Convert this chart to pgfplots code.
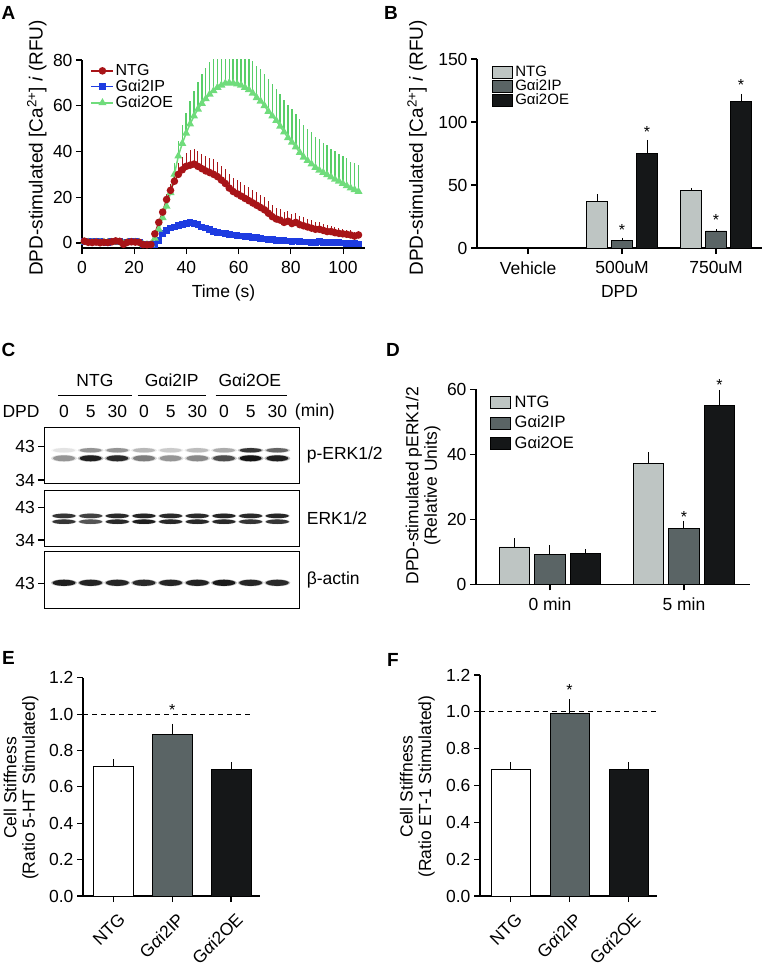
\documentclass[border=0pt]{standalone}
\usepackage{fontspec}
\setmainfont{Liberation Sans}
\usepackage{pgfplots}
\usepackage{pgfplotstable}
\pgfplotsset{compat=1.18}

\definecolor{cntg}{RGB}{168,20,24}
\definecolor{cip}{RGB}{30,60,225}
\definecolor{coe}{RGB}{112,220,124}
\definecolor{coeerr}{RGB}{88,206,104}
\definecolor{bntg}{RGB}{190,197,195}
\definecolor{bip}{RGB}{90,100,101}
\definecolor{boe}{RGB}{21,23,24}

\newcommand\tfs{\fontsize{17.5}{18.5}\selectfont}
\newcommand\yfs{\fontsize{19}{20}\selectfont}
\newcommand\letfs{\bfseries\fontsize{19}{19}\selectfont}

\pgfdeclareplotmark{bandthin}{\pgfpathellipse{\pgfpointorigin}{\pgfpoint{\pgfplotmarksize}{0pt}}{\pgfpoint{0pt}{0.2\pgfplotmarksize}}\pgfusepathqfill}
\pgfdeclareplotmark{bandthick}{\pgfpathellipse{\pgfpointorigin}{\pgfpoint{\pgfplotmarksize}{0pt}}{\pgfpoint{0pt}{0.27\pgfplotmarksize}}\pgfusepathqfill}

\pgfplotsset{
  gp/.style={
    scale only axis,
    axis lines=left,
    axis line style={-, line width=1.1pt},
    tick style={line width=1.1pt, black},
    tick align=outside,
    major tick length=6pt,
    tick label style={font=\tfs},
    x tick label style={yshift=-4pt},
    label style={font=\tfs},
    /pgf/number format/assume math mode=true,
  },
  barerr/.style={error bars/.cd, y dir=plus, y explicit, error mark=none, error bar style={line width=1pt, draw=black}},
  barleg/.style={legend image code/.code={\draw[#1, line width=0.8pt] (0pt,-6pt) rectangle (20pt,6pt);}},
  blot/.style={
    scale only axis, width=255pt, xmin=0.261, xmax=9.825, ymin=0,
    xtick=\empty, ytick pos=left, tick align=outside, major tick length=6pt,
    axis line style={line width=1.1pt}, tick style={line width=1.1pt, black},
    tick label style={font=\tfs}, clip=false,
    colormap={blotmap}{color(0)=(white) color(1)=(black!92)},
    point meta min=0, point meta max=1,
  },
  bandplot/.style={scatter, only marks, point meta=explicit, scatter/use mapped color={draw=none, fill=mapped color}},
}

% Panel A data: time (s), mean and upper error for each genotype
\pgfplotstableread{
t ntg ntge ip ipe oe oee
0.9 0.8 0.3 0.6 0.2 0.5 0.3
2.4 0.3 0.3 0.4 0.2 0.3 0.3
3.9 0.2 0.3 0.5 0.2 0.2 0.3
5.4 0.4 0.3 0.8 0.2 0.3 0.3
6.9 0.1 0.3 0.6 0.2 0.2 0.3
8.4 0.3 0.3 0.4 0.2 0.3 0.3
9.9 0.2 0.3 0.3 0.2 0.2 0.3
11.4 0.5 0.3 0.5 0.2 0.3 0.3
12.9 0.9 0.3 0.7 0.2 0.5 0.3
14.4 0.7 0.3 0.6 0.2 0.4 0.3
15.9 -0.6 0.3 0.2 0.2 -0.3 0.3
17.4 0.3 0.3 0.4 0.2 0.2 0.3
18.9 0.5 0.3 0.6 0.2 0.3 0.3
20.4 0.4 0.3 0.5 0.2 0.3 0.3
21.9 0.3 0.3 0.4 0.2 0.2 0.3
23.4 -0.7 0.2 -0.6 0.2 -0.7 0.2
24.9 -0.8 0.2 -0.7 0.2 -0.8 0.2
26.4 -0.7 0.2 -0.8 0.2 -0.7 0.2
27.9 4.0 0.6 -0.8 0.3 2.0 0.5
29.4 9.0 1.0 1.0 0.5 6.0 1.0
30.9 13.5 1.5 4.0 0.8 11.0 1.5
32.4 19.0 2.2 5.5 1.0 16.0 2.5
33.9 23.0 3.0 6.5 1.0 22.0 3.5
35.4 27.0 4.0 7.0 1.2 30.0 5.0
36.9 30.0 4.8 7.5 1.2 38.0 6.5
38.4 32.0 5.5 8.0 1.2 43.5 8.0
39.9 33.5 6.0 8.5 1.2 48.0 9.0
41.4 34.0 6.5 9.0 1.2 52.0 10.0
42.9 34.5 6.5 8.5 1.2 55.5 11.0
44.4 33.5 6.5 8.0 1.2 58.5 12.0
45.9 32.5 6.5 7.0 1.1 61.0 13.0
47.4 31.5 6.5 6.5 1.0 63.0 13.5
48.9 30.8 6.5 5.8 1.0 65.0 14.0
50.4 30.0 6.5 5.0 1.0 66.5 14.0
51.9 29.0 6.5 4.7 0.9 68.0 14.0
53.4 27.5 6.3 4.3 0.9 69.0 14.0
54.9 26.0 6.2 4.0 0.9 69.8 14.0
56.4 24.0 6.0 3.8 0.8 70.0 14.0
57.9 22.5 6.0 3.5 0.8 69.8 14.0
59.4 21.5 6.0 3.2 0.8 69.5 14.0
60.9 20.5 6.0 3.0 0.8 69.0 14.0
62.4 19.5 5.8 2.8 0.7 68.0 14.0
63.9 18.5 5.8 2.7 0.7 67.0 14.0
65.4 17.5 5.7 2.5 0.7 65.5 14.0
66.9 16.5 5.6 2.3 0.7 63.5 14.0
68.4 15.5 5.5 2.0 0.7 62.0 14.0
69.9 14.5 5.5 1.8 0.6 60.0 14.0
71.4 13.0 5.3 1.6 0.6 57.5 14.0
72.9 11.5 5.0 1.5 0.6 55.5 14.0
74.4 10.5 5.0 1.2 0.6 53.5 14.0
75.9 10.0 4.8 1.0 0.6 51.0 14.0
77.4 9.0 4.6 1.1 0.6 48.5 14.0
78.9 9.5 4.5 0.8 0.5 46.0 14.5
80.4 8.5 4.3 0.6 0.5 44.0 14.5
81.9 9.0 4.2 0.8 0.5 42.0 14.5
83.4 8.0 4.0 0.6 0.5 39.5 14.5
84.9 7.5 3.8 0.4 0.5 37.5 14.0
86.4 7.0 3.6 0.4 0.5 36.0 14.0
87.9 6.5 3.5 0.3 0.5 34.5 14.0
89.4 6.0 3.3 0.3 0.5 33.0 13.5
90.9 6.0 3.1 0.5 0.5 31.8 13.5
92.4 5.5 3.0 0.3 0.5 30.8 13.0
93.9 5.0 2.8 0.2 0.5 29.8 13.0
95.4 5.0 2.6 0.2 0.5 28.8 12.5
96.9 4.5 2.5 0.2 0.5 27.8 12.5
98.4 4.2 2.3 0.1 0.5 27.0 12.0
99.9 4.0 2.2 0.0 0.5 26.0 12.0
101.4 3.8 2.0 -0.1 0.5 25.0 12.0
102.9 3.5 2.0 -0.2 0.5 24.0 11.5
104.4 3.0 1.8 -0.3 0.5 23.3 11.5
105.9 3.5 1.8 -0.5 0.5 22.5 11.5
}\dataA

% Panel B
\pgfplotstableread{
x y e
0.734 36.6 5.9
1.734 45.4 2.4
}\Bntg
\pgfplotstableread{
x y e
1 6.1 2.2
2 13.5 1.4
}\Bip
\pgfplotstableread{
x y e
1.266 75.2 10.6
2.266 116 6.4
}\Boe

% Panel D
\pgfplotstableread{
x y e
-0.266 11.5 2.7
0.734 37.2 3.5
}\Dntg
\pgfplotstableread{
x y e
0 9.3 2.8
1 17.2 2.4
}\Dip
\pgfplotstableread{
x y e
0.266 9.5 1.3
1.266 54.9 4.9
}\Doe

% Panel C blot band intensities (lane, position, darkness)
\pgfplotstableread{
l y v
1 33.0 0.12
2 33.0 0.45
3 33.0 0.45
4 33.0 0.30
5 33.0 0.22
6 33.0 0.28
7 33.0 0.35
8 33.0 0.85
9 33.0 0.65
}\pUp
\pgfplotstableread{
l y v
1 25.0 0.45
2 25.0 0.95
3 25.0 0.90
4 25.0 0.55
5 25.0 0.45
6 25.0 0.50
7 25.0 0.75
8 25.0 1.00
9 25.0 0.95
}\pLo
\pgfplotstableread{
l y v
1 30.8 0.85
2 30.8 0.80
3 30.8 0.90
4 30.8 0.92
5 30.8 0.90
6 30.8 0.90
7 30.8 0.92
8 30.8 0.90
9 30.8 0.92
}\eUp
\pgfplotstableread{
l y v
1 25.0 0.85
2 25.0 0.72
3 25.0 0.90
4 25.0 0.95
5 25.0 0.90
6 25.0 0.90
7 25.0 0.90
8 25.0 0.85
9 25.0 0.85
}\eLo
\pgfplotstableread{
l y v
1 25.5 0.95
2 25.5 0.93
3 25.5 0.92
4 25.5 0.90
5 25.5 0.92
6 25.5 0.93
7 25.5 0.97
8 25.5 0.92
9 25.5 0.90
}\act

\begin{document}
\begin{tikzpicture}
\useasboundingbox (0,0) rectangle (765pt,-968pt);

% panel letters
\node[font=\letfs] at (8.5pt,-13pt) {A};
\node[font=\letfs] at (391pt,-13pt) {B};
\node[font=\letfs] at (8.5pt,-350pt) {C};
\node[font=\letfs] at (393pt,-350pt) {D};
\node[font=\letfs] at (8.5pt,-658pt) {E};
\node[font=\letfs] at (393pt,-660pt) {F};

% ---------------- A ----------------
\begin{axis}[gp, at={(82pt,-60pt)}, anchor=north west, width=283pt, height=188pt,
  xmin=0, xmax=108.4, ymin=-2.2, ymax=80,
  xtick={0,20,...,100}, ytick={0,20,...,80},
  xlabel={Time (s)}, ylabel={DPD-stimulated [Ca\textsuperscript{2+}] \textit{i} (RFU)},
  xlabel style={at={(axis description cs:0.5,-0.24)}, anchor=center},
  ylabel style={at={(axis description cs:-0.16,0.532)}, anchor=center, font=\yfs},
  legend style={at={(rel axis cs:0.03,0.985)}, anchor=north west, draw=none, fill=none,
    font=\fontsize{16}{17}\selectfont, row sep=0pt, inner sep=0pt,
    nodes={inner sep=1.5pt}},
  legend cell align=left,
  legend image code/.code={\draw[#1, mark repeat=2, mark phase=2] plot coordinates {(0pt,0pt) (11pt,0pt) (22pt,0pt)};},
]
\addlegendimage{cntg, line width=1.5pt, mark=*, mark size=3pt}
\addlegendentry{NTG}
\addlegendimage{cip, line width=1.5pt, mark=square*, mark size=2.6pt}
\addlegendentry{Gαi2IP}
\addlegendimage{coe, line width=1.5pt, mark=triangle*, mark size=3.2pt}
\addlegendentry{Gαi2OE}
\addplot[forget plot, cip, line width=1.5pt, mark=square*, mark size=2.6pt,
  error bars/.cd, y dir=plus, y explicit, error mark=none, error bar style={line width=0.8pt, draw=cip}]
  table[x=t, y=ip, y error plus=ipe] {\dataA};
\addplot[forget plot, coe, line width=1.5pt, mark=triangle*, mark size=3.2pt,
  error bars/.cd, y dir=plus, y explicit, error mark=none, error bar style={line width=1.4pt, draw=coeerr, color=coeerr}]
  table[x=t, y=oe, y error plus=oee] {\dataA};
\addplot[forget plot, cntg, line width=1.5pt, mark=*, mark size=3pt,
  error bars/.cd, y dir=plus, y explicit, error mark=none, error bar style={line width=1pt, draw=cntg, color=cntg}]
  table[x=t, y=ntg, y error plus=ntge] {\dataA};
\end{axis}

% ---------------- B ----------------
\begin{axis}[gp, barleg, at={(477pt,-59pt)}, anchor=north west, width=285pt, height=189pt,
  xmin=-0.543, xmax=2.489, ymin=0, ymax=150, ytick={0,50,100,150},
  xtick={0,1,2}, xticklabels={Vehicle,500uM,750uM},
  xlabel={DPD}, ylabel={DPD-stimulated [Ca\textsuperscript{2+}] \textit{i} (RFU)},
  xlabel style={at={(axis description cs:0.5,-0.228)}, anchor=center},
  ylabel style={at={(axis description cs:-0.21,0.53)}, anchor=center, font=\yfs},
  legend style={at={(rel axis cs:0.052,0.968)}, anchor=north west, draw=none, fill=none,
    font=\fontsize{15}{16}\selectfont, row sep=0pt, inner sep=0pt,
    nodes={inner sep=1pt, text height=10.5pt, text depth=1.5pt},
    /tikz/every odd column/.append style={column sep=1.5pt}},
  legend cell align=left, clip=false,
]
\addplot[ybar, bar width=21pt, bar shift=0pt, draw=black, line width=0.8pt, fill=bntg, barerr]
  table[x=x, y=y, y error plus=e] {\Bntg};
\addlegendentry{NTG}
\addplot[ybar, bar width=21pt, bar shift=0pt, draw=black, line width=0.8pt, fill=bip, barerr]
  table[x=x, y=y, y error plus=e] {\Bip};
\addlegendentry{Gαi2IP}
\addplot[ybar, bar width=21pt, bar shift=0pt, draw=black, line width=0.8pt, fill=boe, barerr]
  table[x=x, y=y, y error plus=e] {\Boe};
\addlegendentry{Gαi2OE}
\node[font=\fontsize{16}{16}\selectfont, yshift=-3.4pt] at (axis cs:1,16.7) {*};
\node[font=\fontsize{16}{16}\selectfont, yshift=-3.4pt] at (axis cs:1.266,95) {*};
\node[font=\fontsize{16}{16}\selectfont, yshift=-3.4pt] at (axis cs:2,24.7) {*};
\node[font=\fontsize{16}{16}\selectfont, yshift=-3.4pt] at (axis cs:2.266,132.2) {*};
\end{axis}

% ---------------- C (blot) ----------------
\begin{axis}[blot, at={(44.3pt,-427.7pt)}, anchor=north west, height=55.6pt, ymax=55.6,
  ytick={3.3,36.6}, yticklabels={34,43}]
\addplot[bandplot, mark=bandthin, mark size=13pt, opacity=0.3] table[x=l,y=y,meta=v] {\pUp};
\addplot[bandplot, mark=bandthick, mark size=13pt, opacity=0.3] table[x=l,y=y,meta=v] {\pLo};
\addplot[bandplot, mark=bandthin, mark size=11pt] table[x=l,y=y,meta=v] {\pUp};
\addplot[bandplot, mark=bandthick, mark size=11pt] table[x=l,y=y,meta=v] {\pLo};
\node[font=\tfs, anchor=west] at (rel axis cs:1,0.51) [xshift=4pt] {p-ERK1/2};
% header
\node[font=\tfs] at (axis cs:2.16,103.3) {NTG};
\node[font=\tfs] at (axis cs:5.04,103.3) {Gαi2IP};
\node[font=\tfs] at (axis cs:7.97,103.3) {Gαi2OE};
\draw[line width=1pt] (axis cs:0.775,88.3) -- (axis cs:3.54,88.3);
\draw[line width=1pt] (axis cs:3.775,88.3) -- (axis cs:6.32,88.3);
\draw[line width=1pt] (axis cs:6.69,88.3) -- (axis cs:9.35,88.3);
\node[font=\tfs] at (axis cs:-0.61,71.6) {DPD};
\node[font=\tfs] at (axis cs:1,71.6) {0};
\node[font=\tfs] at (axis cs:2,71.6) {5};
\node[font=\tfs] at (axis cs:3,71.6) {30};
\node[font=\tfs] at (axis cs:4,71.6) {0};
\node[font=\tfs] at (axis cs:5,71.6) {5};
\node[font=\tfs] at (axis cs:6,71.6) {30};
\node[font=\tfs] at (axis cs:7,71.6) {0};
\node[font=\tfs] at (axis cs:8,71.6) {5};
\node[font=\tfs] at (axis cs:9,71.6) {30};
\node[font=\tfs] at (axis cs:10.41,71.6) {(min)};
\end{axis}

\begin{axis}[blot, at={(44.3pt,-490.7pt)}, anchor=north west, height=56pt, ymax=56,
  ytick={6.7,39.4}, yticklabels={34,43}]
\addplot[bandplot, mark=bandthin, mark size=12.5pt, opacity=0.3] table[x=l,y=y,meta=v] {\eUp};
\addplot[bandplot, mark=bandthin, mark size=12.5pt, opacity=0.3] table[x=l,y=y,meta=v] {\eLo};
\addplot[bandplot, mark=bandthin, mark size=11.5pt] table[x=l,y=y,meta=v] {\eUp};
\addplot[bandplot, mark=bandthin, mark size=11.5pt] table[x=l,y=y,meta=v] {\eLo};
\node[font=\tfs, anchor=west] at (rel axis cs:1,0.51) [xshift=4pt] {ERK1/2};
\end{axis}

\begin{axis}[blot, at={(44.3pt,-551.7pt)}, anchor=north west, height=56.6pt, ymax=56.6,
  ytick={25}, yticklabels={43}]
\addplot[bandplot, mark=bandthick, mark size=13pt, opacity=0.3] table[x=l,y=y,meta=v] {\act};
\addplot[bandplot, mark=bandthick, mark size=11.5pt] table[x=l,y=y,meta=v] {\act};
\node[font=\tfs, anchor=west] at (rel axis cs:1,0.5) [xshift=4pt] {β-actin};
\end{axis}

% ---------------- D ----------------
\begin{axis}[gp, barleg, at={(476pt,-389.3pt)}, anchor=north west, width=274pt, height=195pt,
  xmin=-0.552, xmax=1.493, ymin=0, ymax=60, ytick={0,20,40,60},
  xtick={0,1}, xticklabels={0 min,5 min},
  ylabel={DPD-stimulated pERK1/2\\(Relative Units)},
  ylabel style={at={(axis description cs:-0.193,0.505)}, anchor=center, align=center},
  legend style={at={(rel axis cs:0.05,0.972)}, anchor=north west, draw=none, fill=none,
    font=\fontsize{16.5}{17}\selectfont, row sep=5pt, inner sep=0pt,
    nodes={inner sep=1pt, text height=11.5pt, text depth=2pt},
    /tikz/every odd column/.append style={column sep=3pt}},
  legend cell align=left, clip=false,
]
\addplot[ybar, bar width=30.5pt, bar shift=0pt, draw=black, line width=0.8pt, fill=bntg, barerr]
  table[x=x, y=y, y error plus=e] {\Dntg};
\addlegendentry{NTG}
\addplot[ybar, bar width=30.5pt, bar shift=0pt, draw=black, line width=0.8pt, fill=bip, barerr]
  table[x=x, y=y, y error plus=e] {\Dip};
\addlegendentry{Gαi2IP}
\addplot[ybar, bar width=30.5pt, bar shift=0pt, draw=black, line width=0.8pt, fill=boe, barerr]
  table[x=x, y=y, y error plus=e] {\Doe};
\addlegendentry{Gαi2OE}
\node[font=\fontsize{16}{16}\selectfont, yshift=-3.4pt] at (axis cs:1,21.8) {*};
\node[font=\fontsize{16}{16}\selectfont, yshift=-3.4pt] at (axis cs:1.266,62.3) {*};
\end{axis}

% ---------------- E ----------------
\begin{axis}[gp, at={(83pt,-677.7pt)}, anchor=north west, width=177pt, height=218.3pt,
  xmin=0.481, xmax=3.493, ymin=0, ymax=1.2, ytick={0,0.2,...,1.2},
  yticklabel style={/pgf/number format/.cd, fixed, fixed zerofill, precision=1},
  xtick={1,2,3}, xticklabels={NTG,G\textit{α}i2IP,G\textit{α}i2OE},
  xticklabel style={xshift=4pt, yshift=-1pt, rotate=45, anchor=north east},
  ylabel={Cell Stiffness\\(Ratio 5-HT Stimulated)},
  ylabel style={at={(axis description cs:-0.35,0.495)}, anchor=center, align=center},
  clip=false,
]
\addplot[black, line width=1pt, dash pattern=on 5pt off 4pt] coordinates {(0.481,1) (3.355,1)};
\addplot[ybar, bar width=40pt, bar shift=0pt, draw=black, line width=0.8pt, fill=white, barerr]
  coordinates {(1,0.713) +- (0,0.038)};
\addplot[ybar, bar width=40pt, bar shift=0pt, draw=black, line width=0.8pt, fill=bip, barerr]
  coordinates {(2,0.891) +- (0,0.056)};
\addplot[ybar, bar width=40pt, bar shift=0pt, draw=black, line width=0.8pt, fill=boe, barerr]
  coordinates {(3,0.697) +- (0,0.038)};
\node[font=\fontsize{16}{16}\selectfont, yshift=-3.4pt] at (axis cs:2,1.04) {*};
\end{axis}

% ---------------- F ----------------
\begin{axis}[gp, at={(480pt,-675pt)}, anchor=north west, width=176.7pt, height=221pt,
  xmin=0.483, xmax=3.475, ymin=0, ymax=1.2, ytick={0,0.2,...,1.2},
  yticklabel style={/pgf/number format/.cd, fixed, fixed zerofill, precision=1},
  xtick={1,2,3}, xticklabels={NTG,G\textit{α}i2IP,G\textit{α}i2OE},
  xticklabel style={xshift=4pt, yshift=-1pt, rotate=45, anchor=north east},
  ylabel={Cell Stiffness\\(Ratio ET-1 Stimulated)},
  ylabel style={at={(axis description cs:-0.354,0.495)}, anchor=center, align=center},
  clip=false,
]
\addplot[ybar, bar width=39pt, bar shift=0pt, draw=black, line width=0.8pt, fill=white, barerr]
  coordinates {(1,0.688) +- (0,0.038)};
\addplot[ybar, bar width=39pt, bar shift=0pt, draw=black, line width=0.8pt, fill=bip, barerr]
  coordinates {(2,0.992) +- (0,0.076)};
\addplot[ybar, bar width=39pt, bar shift=0pt, draw=black, line width=0.8pt, fill=boe, barerr]
  coordinates {(3,0.688) +- (0,0.038)};
\addplot[black, line width=1pt, dash pattern=on 5pt off 4pt] coordinates {(0.483,1) (3.475,1)};
\node[font=\fontsize{16}{16}\selectfont, yshift=-3.4pt] at (axis cs:2,1.135) {*};
\end{axis}
\end{tikzpicture}
\end{document}
